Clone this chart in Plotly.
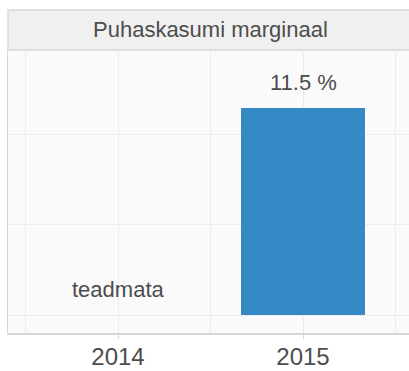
import plotly.graph_objects as go

# Net profit margin by year (None = no data available)
years = [2014, 2015]
margin_pct = [None, 11.5]
tick_labels = ["2014", "2015"]
missing_text = "teadmata"
facet_title = "Puhaskasumi marginaal"

TEXT = "#4d4d4d"
GRID = "#ececec"
BORDER = "#d6d6d6"
FONT = "Liberation Sans, Arial, sans-serif"

fig = go.Figure()
fig.add_trace(go.Bar(
    x=years,
    y=margin_pct,
    width=0.665,
    marker=dict(color="#3589c4", line=dict(width=0)),
    hoverinfo="skip",
))

# value labels above each bar; missing years get a note at the baseline
for yr, val in zip(years, margin_pct):
    fig.add_annotation(
        x=yr,
        y=0 if val is None else val,
        text=missing_text if val is None else f"{val} %",
        showarrow=False,
        yanchor="bottom",
        yshift=11,
        font=dict(family=FONT, size=22, color=TEXT),
    )

# facet strip above the panel
fig.add_shape(
    type="rect", xref="paper", yref="paper",
    x0=0, x1=1.02, y0=1.0, y1=1 + 40 / 283,
    fillcolor="#f0f0f0", line=dict(color=BORDER, width=1.3), layer="below",
)
fig.add_annotation(
    xref="paper", yref="paper", x=202 / 401, y=1 + 20 / 283,
    text=facet_title, showarrow=False, xanchor="center", yanchor="middle",
    font=dict(family=FONT, size=22, color=TEXT),
)

fig.update_layout(
    width=409, height=371,
    margin=dict(l=8, r=0, t=50, b=38, autoexpand=False),
    paper_bgcolor="white",
    plot_bgcolor="#fafafa",
    showlegend=False,
    bargap=0,
)
fig.update_xaxes(
    automargin=False,
    range=[2013.4054, 2015.573],
    tickvals=years, ticktext=tick_labels,
    tickfont=dict(family=FONT, size=24, color=TEXT),
    ticklabelstandoff=-3,
    ticks="outside", ticklen=4, tickcolor=BORDER, tickwidth=1,
    showgrid=True, gridcolor=GRID, gridwidth=1.2,
    minor=dict(tickvals=[2013.5, 2014.5, 2015.5], showgrid=True,
               gridcolor=GRID, gridwidth=1.2),
    showline=True, linecolor=BORDER, linewidth=1.6,
    zeroline=False, fixedrange=True,
)
fig.update_yaxes(
    automargin=False,
    range=[-0.998, 14.70],
    tickvals=[0, 5, 10],
    showticklabels=False, ticks="",
    showgrid=True, gridcolor=GRID, gridwidth=1.2,
    showline=True, linecolor=BORDER, linewidth=1.4,
    zeroline=False, fixedrange=True,
)

fig.write_html("out.html")
